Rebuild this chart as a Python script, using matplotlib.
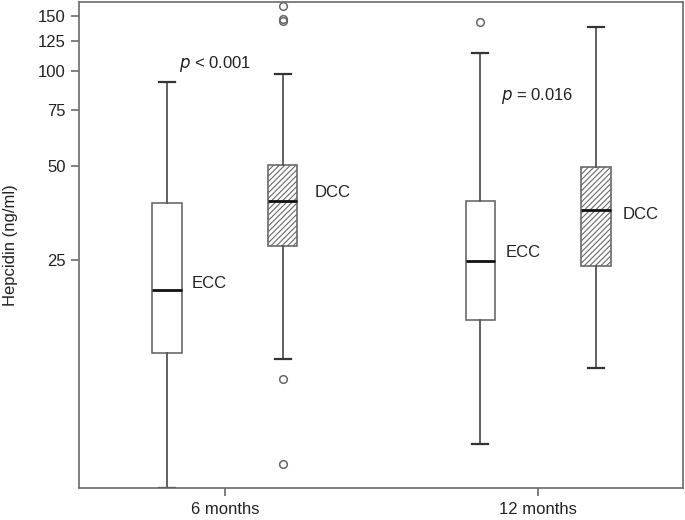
import matplotlib.pyplot as plt
from matplotlib.ticker import FixedLocator, NullLocator

plt.rcParams['font.family'] = ['Liberation Sans', 'DejaVu Sans']
plt.rcParams['hatch.linewidth'] = 0.8

# data (ng/ml)
groups = ['6 months', '12 months']
labels = ['ECC', 'DCC', 'ECC', 'DCC']
whislo = [4.7, 12.1, 6.5, 11.3]
q1 = [12.6, 27.7, 16.1, 23.9]
med = [20.0, 38.6, 24.8, 36.0]
q3 = [37.9, 50.3, 38.5, 49.5]
whishi = [92.6, 97.7, 114.0, 138.0]
fliers = [[], [161.0, 146.0, 144.0, 10.4, 5.6], [143.0], []]
yticks = [25, 50, 75, 100, 125, 150]
pvals = ['$p$ < 0.001', '$p$ = 0.016']


def main():
    fig = plt.figure(figsize=(6.85, 5.2), dpi=100)
    ax = fig.add_axes([79 / 685, 32 / 520, 604 / 685, 486 / 520])

    stats = []
    for i in range(4):
        stats.append(dict(whislo=whislo[i], q1=q1[i], med=med[i], q3=q3[i],
                          whishi=whishi[i], fliers=fliers[i]))
    pos = [0 - 0.185, 0 + 0.185, 1 - 0.185, 1 + 0.185]

    gray = '#6a6a6a'
    bp = ax.bxp(stats, positions=pos, widths=0.093, patch_artist=True,
                manage_ticks=False,
                boxprops=dict(edgecolor=gray, linewidth=1.2),
                whiskerprops=dict(color='#555555', linewidth=1.3),
                capprops=dict(color='#333333', linewidth=1.6),
                medianprops=dict(color='#111111', linewidth=2),
                flierprops=dict(marker='o', markersize=5.5, markerfacecolor='none',
                                markeredgecolor='#666666', markeredgewidth=1.1),
                capwidths=0.05)
    for i, b in enumerate(bp['boxes']):
        b.set_facecolor('white')
        if labels[i] == 'DCC':
            b.set_hatch('//////')

    ax.set_yscale('log')
    ax.set_ylim(4.69, 166)
    ax.set_xlim(-0.466, 1.463)
    ax.yaxis.set_major_locator(FixedLocator(yticks))
    ax.yaxis.set_minor_locator(NullLocator())
    ax.set_yticklabels([str(t) for t in yticks])
    ax.set_xticks([0, 1])
    ax.set_xticklabels(groups)
    ax.tick_params(axis='both', labelsize=12, color=gray, length=6,
                   width=1.2, labelcolor='#222222')
    ax.tick_params(axis='x', pad=4)
    for s in ax.spines.values():
        s.set_color(gray)
        s.set_linewidth(1.2)
    ax.set_ylabel('Hepcidin (ng/ml)', fontsize=12, color='#222222', labelpad=14)

    # group labels next to boxes
    lab_dx = [0.08, 0.1, 0.08, 0.085]
    lab_y = [21.1, 41.1, 26.5, 34.9]
    for i in range(4):
        ax.text(pos[i] + lab_dx[i], lab_y[i], labels[i], fontsize=12,
                va='center', ha='left', color='#222222')

    ax.text(-0.148, 105, pvals[0], fontsize=12, ha='left', va='center', color='#222222')
    ax.text(0.883, 83, pvals[1], fontsize=12, ha='left', va='center', color='#222222')

    fig.savefig('out.png', dpi=100)


if __name__ == '__main__':
    main()
